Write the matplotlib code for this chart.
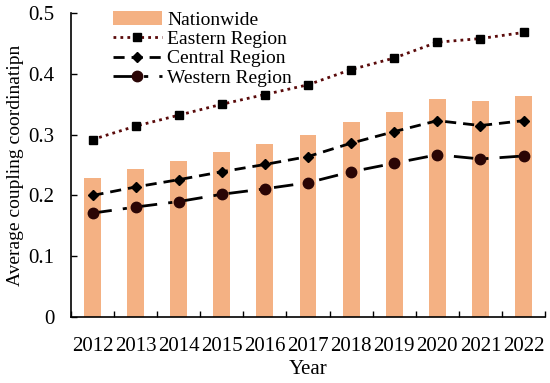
import matplotlib
matplotlib.use("Agg")
import matplotlib.pyplot as plt
import numpy as np

plt.rcParams['font.family'] = ['Liberation Serif', 'DejaVu Serif']

years = ['2012', '2013', '2014', '2015', '2016', '2017', '2018', '2019', '2020', '2021', '2022']
nationwide = [0.228, 0.243, 0.257, 0.272, 0.285, 0.299, 0.320, 0.338, 0.358, 0.356, 0.363]
eastern = [0.292, 0.314, 0.332, 0.350, 0.366, 0.382, 0.407, 0.426, 0.452, 0.458, 0.468]
central = [0.200, 0.214, 0.226, 0.239, 0.251, 0.264, 0.286, 0.305, 0.323, 0.315, 0.323]
western = [0.171, 0.181, 0.190, 0.202, 0.211, 0.221, 0.239, 0.253, 0.267, 0.260, 0.265]

x = np.arange(len(years))

fig = plt.figure(figsize=(5.5, 3.83), dpi=100)
ax = fig.add_axes([0.129, 0.172, 0.862, 0.794])

b = ax.bar(x, nationwide, width=0.39, color='#F4B183', label='Nationwide', zorder=1)
l1, = ax.plot(x, eastern, color='#5a0a0a', linestyle=(0, (1, 1.5)), linewidth=2,
              marker='s', markersize=6, markerfacecolor='black', markeredgecolor='black',
              label='Eastern Region', zorder=3)
l2, = ax.plot(x, central, color='black', linestyle=(0, (4, 2.5)), linewidth=2,
              marker='D', markersize=5, label='Central Region', zorder=3)
l3, = ax.plot(x, western, color='black', linestyle=(0, (7, 4, 1.5, 4)), linewidth=2,
              marker='o', markersize=7.5, markerfacecolor='#2a0505', markeredgecolor='#2a0505',
              label='Western Region', zorder=3)

ax.set_xlim(-0.5, len(years) - 0.5)
ax.set_ylim(0, 0.5)
ax.set_xticks(x)
ax.set_xticklabels(years, fontsize=15)
ax.set_xticks(np.arange(-0.5, len(years)), minor=True)
ax.tick_params(axis='x', which='major', length=0, pad=14)
ax.tick_params(axis='x', which='minor', direction='in', length=4, width=1)
ax.set_yticks([0, 0.1, 0.2, 0.3, 0.4, 0.5])
ax.set_yticklabels(['0', '0.1', '0.2', '0.3', '0.4', '0.5'], fontsize=15)
ax.tick_params(axis='y', direction='in', length=4, width=1, pad=12)

for s in ['top', 'right']:
    ax.spines[s].set_visible(False)
for s in ['left', 'bottom']:
    ax.spines[s].set_linewidth(1.2)

ax.set_xlabel('Year', fontsize=15, labelpad=3)
ax.set_ylabel('Average coupling coordinatipn', fontsize=14, labelpad=3)

ax.legend([b, l1, l2, l3], ['Nationwide', 'Eastern Region', 'Central Region', 'Western Region'],
          loc='upper left', bbox_to_anchor=(0.06, 1.05), frameon=False, fontsize=14,
          handlelength=2.5, handletextpad=0.3, labelspacing=0.08, borderpad=0.2)

fig.savefig('out.png', dpi=100)
